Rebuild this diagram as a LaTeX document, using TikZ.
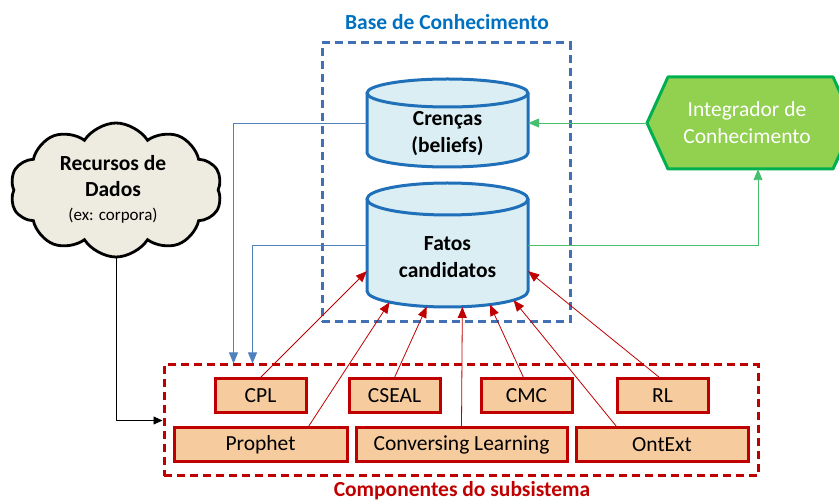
\documentclass[tikz,border=0pt]{standalone}
\usepackage{fontspec}
\setmainfont{Carlito}
\usetikzlibrary{arrows.meta,shapes.symbols,shapes.geometric,calc}

\definecolor{kbblue}{RGB}{0,112,192}
\definecolor{kbdash}{RGB}{65,113,180}
\definecolor{cylfill}{RGB}{218,238,243}
\definecolor{cylline}{RGB}{31,111,185}
\definecolor{linkblue}{RGB}{79,129,189}
\definecolor{compred}{RGB}{192,0,0}
\definecolor{compfill}{RGB}{246,203,158}
\definecolor{hexfill}{RGB}{146,208,80}
\definecolor{hexline}{RGB}{0,176,80}
\definecolor{linkgreen}{RGB}{70,190,110}
\definecolor{cloudfill}{RGB}{238,236,225}

\tikzset{
  bigfont/.style={font=\fontsize{21.5}{27}\selectfont},
  boldfont/.style={font=\fontsize{21.5}{27}\selectfont\bfseries},
  frame/.style={draw=none, fill=none, inner sep=0pt},
  cylshape/.style={draw=cylline, line width=3pt, line join=round},
  compbox/.style={draw=compred, fill=compfill, line width=3pt, minimum height=34pt,
    inner sep=0pt, bigfont},
  dashframe/.style={line width=3pt, dash pattern=on 8pt off 5pt},
  redarrow/.style={draw=compred, line width=0.8pt, -{Triangle[length=11pt,width=9pt]}},
  bluearrow/.style={draw=linkblue, line width=0.9pt, -{Triangle[length=11pt,width=9pt]}},
  greenarrow/.style={draw=linkgreen, line width=0.9pt, -{Triangle[length=11pt,width=9pt]}},
  blackarrow/.style={draw=black, line width=0.8pt, -{Triangle[length=9pt,width=8pt]}},
}

\begin{document}
\begin{tikzpicture}[x=1pt,y=-1pt]
\useasboundingbox (0,0) rectangle (839,502);

% --- knowledge base frame and title
\node[frame, draw=kbdash, dashframe, minimum width=248pt, minimum height=279pt] (kb) at (446,182.5) {};
\node[boldfont, text=kbblue] (kbtitle) at (447,22) {Base de Conhecimento};

% --- cylinder "Crenças"
\fill[cylfill] (367,93) -- (367,153) arc[start angle=180,end angle=0,x radius=80.5,y radius=14] -- (528,93) -- cycle;
\fill[cylfill] (447.5,93) ellipse[x radius=80.5,y radius=14];
\draw[cylshape] (367,93) -- (367,153) arc[start angle=180,end angle=0,x radius=80.5,y radius=14] -- (528,93);
\draw[cylshape] (447.5,93) ellipse[x radius=80.5,y radius=14];
\node[frame, minimum width=161pt, minimum height=88pt] (crencas) at (447.5,123) {};
\node[boldfont, align=center] (crencastext) at (447.5,134) {Crenças\\(beliefs)};

% --- cylinder "Fatos candidatos"
\fill[cylfill] (367,199) -- (367,291) arc[start angle=180,end angle=0,x radius=80.5,y radius=16] -- (528,199) -- cycle;
\fill[cylfill] (447.5,199) ellipse[x radius=80.5,y radius=16];
\draw[cylshape] (367,199) -- (367,291) arc[start angle=180,end angle=0,x radius=80.5,y radius=16] -- (528,199);
\draw[cylshape] (447.5,199) ellipse[x radius=80.5,y radius=16];
\node[frame, minimum width=161pt, minimum height=124pt] (fatos) at (447.5,245) {};
\node[frame, ellipse, minimum width=161pt, minimum height=32pt] (fatosbase) at (447.5,291) {};
\node[boldfont, align=center] (fatostext) at (447.5,257) {Fatos\\candidatos};

% --- knowledge integrator (hexagon)
\fill[hexfill] (647,123) -- (668,77) -- (833,77) -- (854,123) -- (833,169) -- (668,169) -- cycle;
\draw[draw=hexline, line width=3pt, line join=round] (647,123) -- (668,77) -- (833,77) -- (854,123) -- (833,169) -- (668,169) -- cycle;
\node[frame, bigfont, text=white, align=center, minimum width=200pt, minimum height=92pt] (integ) at (747,123) {Integrador de\\Conhecimento};

% --- data resources cloud
\node[cloud, cloud puffs=10, cloud puff arc=115, aspect=1.65, draw=black, fill=cloudfill,
  line width=2.8pt, minimum width=212pt, minimum height=134pt, inner sep=0pt] (cloud) at (116,190) {};
\node[align=center, inner sep=0pt, font=\fontsize{21.5}{26}\selectfont\bfseries] (cloudtext) at (113,189)
  {Recursos de\\Dados\\[-2pt]
   {\fontsize{17}{22}\selectfont\mdseries (ex: corpora)}};

% --- subsystem components frame
\node[frame, draw=compred, dashframe, minimum width=594pt, minimum height=111pt] (comp) at (461,420.5) {};
\node[boldfont, text=compred] (comptitle) at (462,491) {Componentes do subsistema};

\node[compbox, minimum width=91pt]  (cpl)    at (260.5,396) {CPL};
\node[compbox, minimum width=91pt]  (cseal)  at (394.5,396) {CSEAL};
\node[compbox, minimum width=91pt]  (cmc)    at (526.5,396) {CMC};
\node[compbox, minimum width=91pt]  (rl)     at (662.5,396) {RL};
\node[compbox, minimum width=173pt] (prophet) at (260.5,445) {Prophet};
\node[compbox, minimum width=211pt] (conv)   at (461.5,445) {Conversing Learning};
\node[compbox, minimum width=172pt] (ontext) at (662,445) {OntExt};

% --- components feed the candidate facts
\draw[redarrow] (cpl.north) -- (fatos.198.5);
\draw[redarrow] ($(prophet.north east)+(-40,0)$) -- (fatosbase.191);
\draw[redarrow] (cseal.north) -- (fatosbase.217);
\draw[redarrow] (conv.north) -- (fatosbase.-47);
\draw[redarrow] ($(cmc.north)+(-3,0)$) -- (fatosbase.-18);
\draw[redarrow] ($(ontext.north west)+(42,0)$) -- (fatosbase.-8);
\draw[redarrow] ($(rl.north)+(-3,0)$) -- (fatos.-18.5);

% --- knowledge base read by the components
\draw[bluearrow] (crencas.west) -| ($(comp.north west)+(71,0)$);
\draw[bluearrow] (fatos.west) -| ($(comp.north west)+(90,0)$);

% --- integrator links
\draw[greenarrow] (integ.west) -- (crencas.east);
\draw[greenarrow] (fatos.east) -| ($(integ.south)+(11,0)$);

% --- data resources to the components
\draw[blackarrow] (cloud.south) |- (comp.west);
\end{tikzpicture}
\end{document}
